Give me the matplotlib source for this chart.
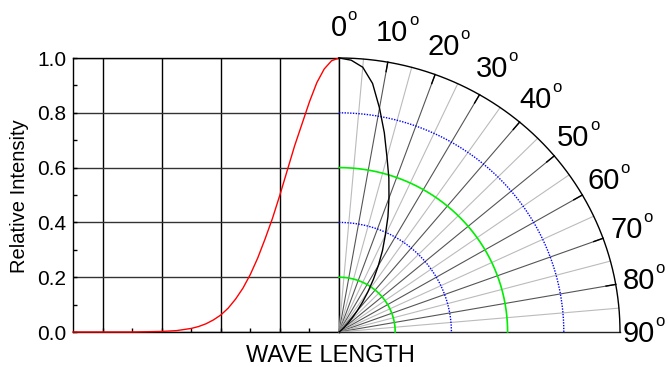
import numpy as np
import matplotlib
matplotlib.use("Agg")
import matplotlib.pyplot as plt
from matplotlib import transforms

plt.rcParams['font.family'] = ['Liberation Sans', 'DejaVu Sans']

# ---- data ----
wave_x = [-4.5, -4.25, -4.0, -3.75, -3.5, -3.25, -3.0, -2.75, -2.5, -2.375, -2.25, -2.125,
          -2.0, -1.875, -1.75, -1.625, -1.5, -1.375, -1.25, -1.125, -1.0, -0.875, -0.75,
          -0.625, -0.5, -0.375, -0.25, -0.125, 0.0]
wave_y = [0.0, 0.0, 0.0, 0.0, 0.0, 0.001, 0.002, 0.005, 0.013, 0.020, 0.030, 0.044,
          0.062, 0.087, 0.12, 0.16, 0.21, 0.27, 0.34, 0.415, 0.50, 0.59, 0.68,
          0.76, 0.84, 0.91, 0.96, 0.99, 1.0]

pattern_deg = [0, 2.5, 5, 7.5, 10, 12.5, 15, 17.5, 20, 22.5, 25, 27.5, 30, 32.5, 35,
               37.5, 40, 42.5, 45, 47.5, 50, 55, 60]
pattern_r = [1.0, 0.993, 0.97, 0.915, 0.83, 0.745, 0.66, 0.59, 0.52, 0.455, 0.39, 0.335,
             0.28, 0.228, 0.18, 0.138, 0.10, 0.07, 0.045, 0.027, 0.015, 0.004, 0.0]

ring_r = [0.2, 0.4, 0.6, 0.8]
angle_labels = [0, 10, 20, 30, 40, 50, 60, 70, 80, 90]
ytick_vals = [0.0, 0.2, 0.4, 0.6, 0.8, 1.0]
ytick_labels = ["0.0", "0.2", "0.4", "0.6", "0.8", "1.0"]
xgrid_vals = [-4, -3, -2, -1, 0]

W, H = 668, 367
fig = plt.figure(figsize=(W / 100, H / 100), dpi=100)

# ---- left spectrum panel ----
axL = fig.add_axes([73 / W, 35 / H, 266 / W, 274 / H])
axL.set_xlim(-4.5, 0)
axL.set_ylim(0, 1)
axL.plot(wave_x, wave_y, color='red', lw=1.0, clip_on=False, zorder=4)
axL.set_xticks(xgrid_vals)
axL.set_xticklabels([])
axL.set_xticks([-3.5, -2.5, -1.5, -0.5], minor=True)
axL.set_yticks(ytick_vals)
axL.set_yticklabels(ytick_labels, fontsize=15)
axL.set_yticks([0.1, 0.3, 0.5, 0.7, 0.9], minor=True)
axL.tick_params(which='both', direction='in', length=3, width=1, pad=5, colors='black')
axL.grid(axis='x', color='black', lw=1.0)
axL.grid(axis='y', color='#333333', lw=1.0)
for s in axL.spines.values():
    s.set_color('black')
    s.set_linewidth(1.0)
axL.set_axisbelow(True)

fig.text(20 / W, 1 - 196 / H, 'Relative Intensity', rotation=90, fontsize=14.5,
         ha='center', va='center')
fig.text(330 / W, 1 - 362 / H, 'WAVE LENGTH', fontsize=17, ha='center', va='baseline')

# ---- right polar panel ----
axR = fig.add_axes([339 / W, 35 / H, 281 / W, 274 / H])
axR.set_xlim(0, 1)
axR.set_ylim(0, 1)
axR.axis('off')

th = np.linspace(0, np.pi / 2, 300)
for a in range(5, 90, 5):
    t = np.deg2rad(a)
    col = '#555555' if a % 10 == 0 else '#bbbbbb'
    axR.plot([0, np.sin(t)], [0, np.cos(t)], color=col, lw=0.8, clip_on=False, zorder=1)
    if a % 10 == 0:
        axR.plot([0.965 * np.sin(t), np.sin(t)], [0.965 * np.cos(t), np.cos(t)],
                 color='black', lw=1.0, clip_on=False, zorder=2)
axR.plot([0, 1], [0, 0], color='#222222', lw=1.0, clip_on=False, zorder=2)

for r in ring_r:
    if abs(r - 0.2) < 1e-9 or abs(r - 0.6) < 1e-9:
        axR.plot(r * np.sin(th), r * np.cos(th), color='#00ee00', lw=1.2,
                 clip_on=False, zorder=3)
    else:
        axR.plot(r * np.sin(th), r * np.cos(th), color='#0000ff', lw=1.0,
                 ls=(0, (1, 1)), clip_on=False, zorder=3)
axR.plot(np.sin(th), np.cos(th), color='black', lw=1.0, clip_on=False, zorder=3)

pt = np.deg2rad(pattern_deg)
pr = np.array(pattern_r)
axR.plot(pr * np.sin(pt), pr * np.cos(pt), color='black', lw=1.0, clip_on=False, zorder=5)

# angle labels: number + small raised "o"
fs = 21
fs_o = 12
px2pt = 0.72
num_tr = transforms.offset_copy(axR.transData, fig=fig, x=0, y=-0.358 * fs, units='points')
for a in angle_labels:
    t = np.deg2rad(a)
    x_px = min(306 * np.sin(t), 300)
    x = x_px / 281
    y = 306 / 274 * np.cos(t)
    num = axR.text(x, y, str(a), fontsize=fs, ha='center', va='baseline',
                   transform=num_tr, clip_on=False)
    axR.annotate('o', xy=(1, y), xycoords=(num, axR.transData),
                 xytext=(0.5 * px2pt, (10 - 0.26 * fs_o / px2pt) * px2pt),
                 textcoords='offset points', fontsize=fs_o, ha='left', va='baseline',
                 annotation_clip=False)

fig.savefig('out.png', dpi=100)
